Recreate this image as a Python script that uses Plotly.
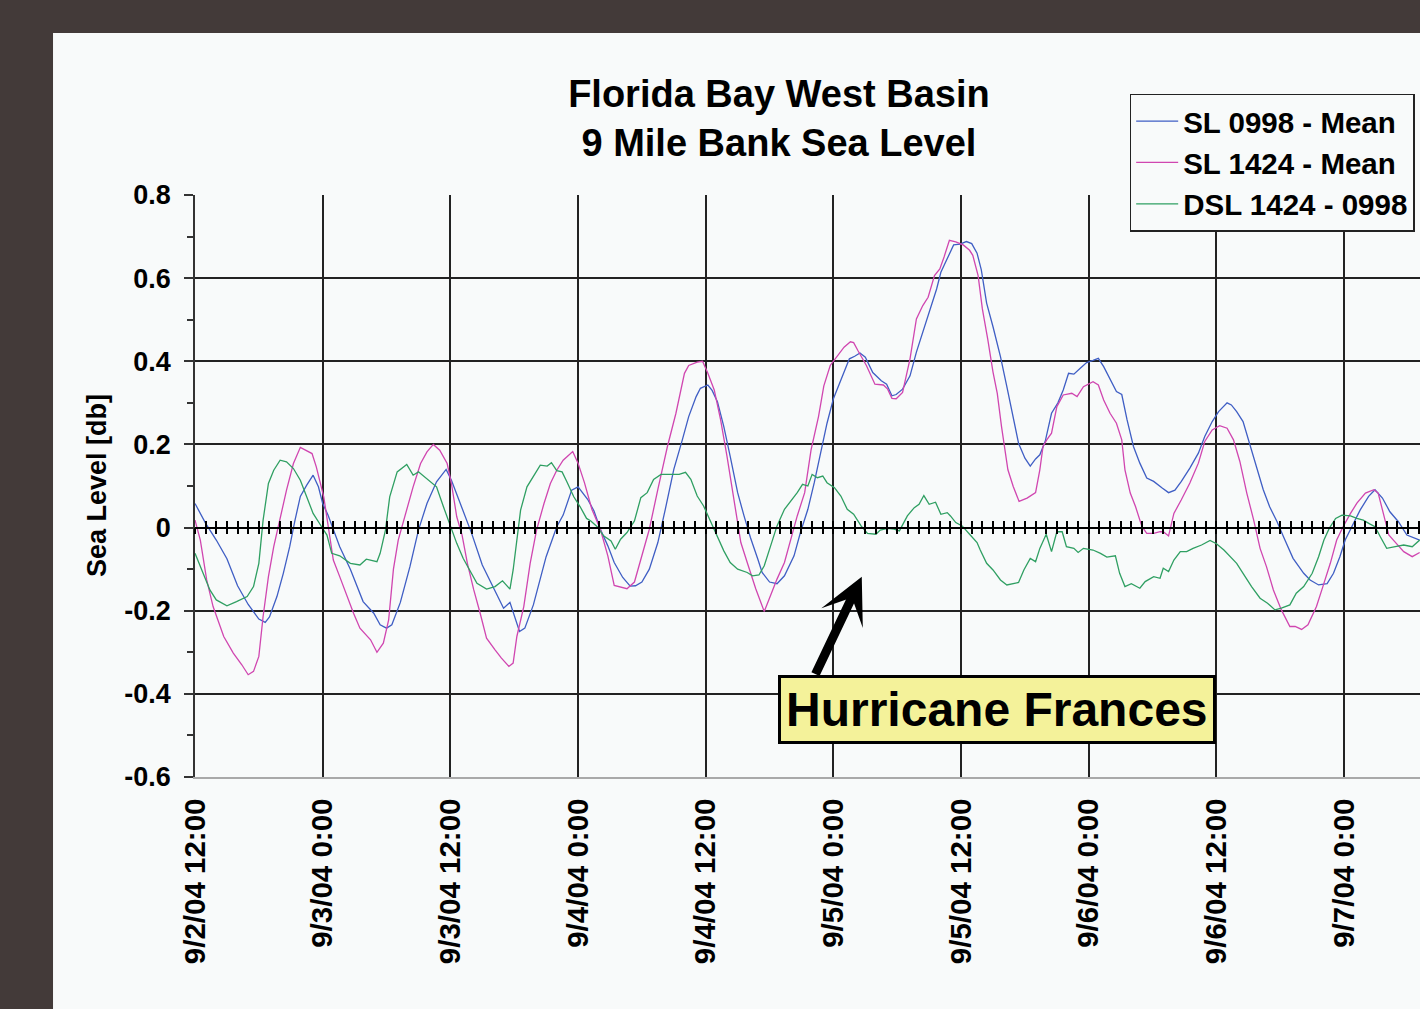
import plotly.graph_objects as go
import pandas as pd

# ---------------- data (hours after 9/2/04 12:00, sea level [db]) ----------------
blue_h = [0, 1, 2, 3, 4, 5, 6, 6.6, 7, 7.7, 8.3, 8.9, 9.4, 9.9, 10.5, 11.1, 11.6, 12, 12.5, 13,
          13.6, 14.6, 15.8, 16.8, 17.4, 18, 18.5, 19.3, 20.2, 21, 21.8, 22.7, 23.6, 24.1, 25.2, 26,
          27, 27.9, 29, 29.6, 30.5, 31, 31.8, 33, 34, 34.6, 35.4, 36, 36.9, 37.5, 38.1, 38.8, 39.4,
          40.2, 40.9, 41.4, 42, 42.7, 43.5, 44.2, 45, 45.8, 46.4, 47.1, 47.5, 48.2, 48.6, 49.1, 49.7,
          50.3, 51, 51.6, 52.2, 52.9, 53.3, 54, 54.7, 55.4, 56.3, 56.9, 57.6, 58.2, 58.8, 59.4, 60,
          60.8, 61.5, 62, 62.5, 63, 63.7, 64.5, 65, 65.5, 65.9, 66.5, 67.2, 67.8, 68.4, 69, 69.7,
          70.1, 70.65, 71.3, 71.9, 72.5, 73, 73.5, 73.9, 74.4, 75, 75.7, 76.3, 76.8, 77.4, 78, 78.5,
          79, 79.4, 79.9, 80.5, 81.1, 81.6, 82.1, 82.6, 83.2, 83.8, 84.4, 84.9, 85.4, 86, 86.6, 87.1,
          87.6, 88.2, 88.8, 89.45, 90.1, 90.9, 91.5, 92.1, 92.7, 93.5, 94.3, 94.9, 95.6, 96.2, 97,
          97.4, 97.9, 98.5, 99.2, 99.8, 100.4, 101, 101.7, 102.3, 103.2, 104.2, 104.8, 105.6, 106.4,
          107, 107.6, 108.1, 108.9, 109.5, 110.3, 110.9, 111.6, 112.3, 113.1, 113.9, 115.1]
blue_v = [0.058, 0.01, -0.03, -0.075, -0.14, -0.185, -0.22, -0.228, -0.215, -0.166, -0.11, -0.046,
          0.018, 0.075, 0.102, 0.126, 0.098, 0.058, 0.03, -0.006, -0.046, -0.1, -0.178, -0.206,
          -0.234, -0.242, -0.234, -0.18, -0.094, -0.006, 0.058, 0.11, 0.14, 0.114, 0.042, -0.014,
          -0.09, -0.138, -0.194, -0.18, -0.25, -0.242, -0.186, -0.07, 0.002, 0.03, 0.09, 0.098,
          0.068, 0.04, -0.004, -0.044, -0.084, -0.12, -0.141, -0.14, -0.131, -0.1, -0.036, 0.044,
          0.14, 0.211, 0.267, 0.315, 0.335, 0.343, 0.33, 0.303, 0.243, 0.171, 0.084, 0.028, -0.024,
          -0.076, -0.108, -0.131, -0.135, -0.116, -0.068, -0.012, 0.044, 0.108, 0.179, 0.251, 0.31,
          0.363, 0.406, 0.412, 0.42, 0.41, 0.373, 0.353, 0.345, 0.317, 0.32, 0.333, 0.365, 0.422,
          0.47, 0.518, 0.574, 0.614, 0.644, 0.68, 0.682, 0.688, 0.683, 0.66, 0.62, 0.54, 0.483,
          0.411, 0.339, 0.275, 0.203, 0.167, 0.148, 0.165, 0.175, 0.207, 0.275, 0.3, 0.331, 0.371,
          0.369, 0.383, 0.397, 0.402, 0.407, 0.387, 0.355, 0.327, 0.32, 0.259, 0.195, 0.155, 0.119,
          0.111, 0.095, 0.084, 0.09, 0.111, 0.143, 0.179, 0.219, 0.255, 0.279, 0.3, 0.295, 0.279,
          0.255, 0.195, 0.139, 0.091, 0.05, 0.014, -0.022, -0.074, -0.11, -0.126, -0.138, -0.135,
          -0.11, -0.07, -0.03, 0.01, 0.042, 0.075, 0.091, 0.071, 0.038, 0.014, -0.018, -0.03]

pink_h = [0, 0.5, 1.1, 1.7, 2.7, 3.6, 4.4, 5, 5.5, 6, 6.4, 6.9, 7.4, 8, 8.6, 9.25, 9.9, 11, 11.4,
          12.1, 12.5, 13, 13.6, 14.3, 14.9, 15.5, 16.5, 17.1, 17.7, 18.2, 18.65, 19.1, 19.9, 20.5,
          21.2, 21.8, 22.4, 23, 23.7, 24.1, 24.6, 25.1, 25.6, 26.2, 26.8, 27.4, 28.2, 28.8, 29.5,
          29.9, 30.25, 30.9, 31.5, 32.1, 32.8, 33.4, 34, 34.6, 35.5, 36, 36.6, 37.3, 38.1, 38.8,
          39.4, 40, 40.6, 41.3, 42, 42.7, 43.5, 44.4, 45.2, 46, 46.4, 47.2, 47.7, 48.2, 48.8, 49.4,
          50, 50.7, 51.3, 51.9, 52.7, 53.5, 54.1, 54.7, 55.4, 56, 56.6, 57.3, 57.6, 57.9, 58.6,
          59.1, 59.7, 60.4, 61, 61.6, 61.9, 62.3, 63.1, 63.9, 64.7, 65.1, 65.5, 65.9, 66.5, 67.2,
          67.8, 68.4, 68.9, 69.5, 70, 70.4, 70.9, 71.5, 72.2, 72.8, 73.1, 73.6, 74, 74.5, 75, 75.4,
          75.8, 76.4, 76.9, 77.45, 78.2, 79, 79.4, 79.7, 80.05, 80.5, 81, 81.6, 82.4, 82.9, 83.5,
          84.4, 84.9, 85.4, 86, 86.6, 87.1, 87.4, 87.9, 88.4, 89, 89.45, 90.1, 90.7, 91, 91.5, 92,
          92.7, 93.5, 94.3, 94.9, 95.6, 96.3, 97, 97.6, 98.2, 98.85, 99.5, 100.1, 100.7, 101.35,
          102.1, 102.9, 103.4, 104, 104.6, 105.4, 106, 106.7, 107.3, 107.9, 108.6, 109.2, 110,
          110.8, 111.2, 111.7, 112.2, 112.9, 113.6, 114.4, 115.1]
pink_v = [0.018, -0.03, -0.126, -0.19, -0.262, -0.302, -0.33, -0.354, -0.346, -0.31, -0.214,
          -0.118, -0.046, 0.026, 0.09, 0.154, 0.193, 0.178, 0.146, 0.074, 0.01, -0.078, -0.118,
          -0.166, -0.206, -0.242, -0.27, -0.3, -0.278, -0.222, -0.1, -0.03, 0.042, 0.098, 0.154,
          0.182, 0.2, 0.186, 0.154, 0.106, 0.026, -0.018, -0.086, -0.15, -0.206, -0.266, -0.294,
          -0.314, -0.334, -0.326, -0.262, -0.19, -0.086, -0.006, 0.058, 0.106, 0.138, 0.162, 0.183,
          0.155, 0.108, 0.044, -0.004, -0.068, -0.139, -0.143, -0.147, -0.131, -0.068, -0.004,
          0.092, 0.195, 0.275, 0.371, 0.39, 0.398, 0.4, 0.371, 0.331, 0.259, 0.171, 0.06, -0.036,
          -0.084, -0.147, -0.202, -0.163, -0.124, -0.084, -0.028, 0.028, 0.084, 0.131, 0.187, 0.267,
          0.341, 0.39, 0.414, 0.434, 0.447, 0.445, 0.426, 0.39, 0.345, 0.343, 0.333, 0.311, 0.31,
          0.325, 0.406, 0.502, 0.534, 0.554, 0.606, 0.622, 0.651, 0.691, 0.687, 0.68, 0.667, 0.655,
          0.606, 0.526, 0.454, 0.374, 0.323, 0.243, 0.139, 0.099, 0.063, 0.071, 0.084, 0.139, 0.195,
          0.211, 0.227, 0.291, 0.319, 0.323, 0.315, 0.339, 0.351, 0.343, 0.307, 0.275, 0.251, 0.211,
          0.139, 0.083, 0.05, 0.002, -0.014, -0.014, -0.01, -0.01, -0.02, 0.034, 0.067, 0.107,
          0.155, 0.207, 0.235, 0.245, 0.239, 0.211, 0.159, 0.083, 0.018, -0.05, -0.094, -0.15,
          -0.198, -0.238, -0.238, -0.245, -0.234, -0.19, -0.142, -0.086, -0.03, 0.002, 0.034, 0.059,
          0.083, 0.091, 0.083, 0.034, -0.018, -0.038, -0.058, -0.07, -0.06]

green_h = [0, 0.8, 1.4, 2, 3, 3.9, 4.9, 5.5, 6, 6.4, 6.9, 7.4, 8, 8.6, 9.25, 9.9, 10.5, 11.1, 11.9,
           12.4, 12.85, 13.6, 14.6, 15.5, 16.1, 17.1, 17.4, 17.9, 18.3, 19, 19.9, 20.5, 21, 21.8,
           22.7, 23.35, 24, 24.6, 25.2, 26, 26.5, 27.4, 28.2, 28.9, 29.6, 29.9, 30.6, 31.2, 31.8,
           32.45, 33.1, 33.5, 34, 34.5, 34.95, 35.6, 36.2, 36.8, 37.2, 37.8, 38.4, 39.1, 39.5, 40,
           40.6, 41.3, 41.9, 42.5, 43.1, 43.8, 44.7, 45.5, 46.1, 46.6, 47.2, 47.8, 48.5, 49.1, 49.7,
           50.3, 51, 51.9, 52.4, 53, 53.5, 54.1, 54.7, 55.4, 56, 56.6, 57.1, 57.6, 58, 58.5, 59,
           59.4, 60.1, 60.7, 61.3, 61.9, 62.6, 63.2, 64, 64.4, 65.1, 65.7, 66.2, 66.95, 67.6, 68.05,
           68.5, 69, 69.6, 70.1, 70.7, 71, 71.5, 72.1, 72.8, 73.5, 73.8, 74.4, 75, 75.7, 76.3, 76.9,
           77.4, 77.9, 78.5, 79, 79.4, 80, 80.5, 81, 81.5, 81.9, 82.6, 83, 83.5, 84.4, 85.1, 85.7,
           86.5, 86.9, 87.4, 88, 88.8, 89.3, 90.1, 90.7, 91, 91.5, 92, 92.6, 93.2, 93.8, 94.6, 95.4,
           96, 96.7, 97.3, 97.9, 98.5, 99.3, 100.1, 100.8, 101.5, 102.1, 102.9, 103.5, 104.2, 105,
           105.6, 106.1, 106.6, 107.2, 107.8, 108.6, 109.2, 109.8, 110.4, 110.9, 111.4, 112, 112.8,
           113.6, 114.4, 115.1]
green_v = [-0.062, -0.11, -0.15, -0.174, -0.188, -0.178, -0.166, -0.142, -0.086, 0.018, 0.106,
           0.138, 0.162, 0.158, 0.142, 0.114, 0.074, 0.034, 0.002, -0.018, -0.062, -0.068, -0.086,
           -0.09, -0.076, -0.082, -0.062, -0.006, 0.074, 0.134, 0.152, 0.126, 0.134, 0.118, 0.098,
           0.05, 0.002, -0.038, -0.074, -0.11, -0.134, -0.148, -0.142, -0.128, -0.148, -0.102,
           0.042, 0.098, 0.122, 0.15, 0.148, 0.156, 0.137, 0.134, 0.11, 0.074, 0.05, 0.022, 0.016,
           0.002, -0.02, -0.032, -0.052, -0.028, -0.012, 0.016, 0.072, 0.084, 0.116, 0.128, 0.128,
           0.128, 0.133, 0.116, 0.076, 0.052, 0.012, -0.024, -0.056, -0.084, -0.1, -0.108, -0.116,
           -0.114, -0.092, -0.044, 0.004, 0.044, 0.064, 0.084, 0.104, 0.1, 0.128, 0.12, 0.124,
           0.108, 0.096, 0.076, 0.044, 0.032, 0.004, -0.014, -0.016, -0.006, -0.002, -0.004, -0.008,
           0.028, 0.048, 0.056, 0.077, 0.056, 0.061, 0.032, 0.036, 0.028, 0.012, 0.004, -0.016,
           -0.036, -0.054, -0.086, -0.102, -0.126, -0.138, -0.134, -0.132, -0.102, -0.074, -0.082,
           -0.05, -0.016, -0.058, -0.01, -0.01, -0.046, -0.05, -0.06, -0.05, -0.054, -0.062, -0.071,
           -0.068, -0.11, -0.142, -0.135, -0.146, -0.13, -0.118, -0.122, -0.098, -0.106, -0.078,
           -0.058, -0.058, -0.05, -0.042, -0.031, -0.039, -0.054, -0.07, -0.086, -0.11, -0.142,
           -0.17, -0.182, -0.198, -0.194, -0.186, -0.158, -0.142, -0.11, -0.07, -0.03, -0.002,
           0.022, 0.03, 0.028, 0.022, 0.018, 0.009, 0.002, -0.022, -0.05, -0.046, -0.042, -0.046,
           -0.03]

series_names = ["SL 0998 - Mean", "SL 1424 - Mean", "DSL 1424 - 0998"]
series_colors = ["#3f5ec4", "#d046b0", "#2f9f62"]

y_tickvals = [-0.6, -0.4, -0.2, 0, 0.2, 0.4, 0.6, 0.8]
y_ticktext = ["-0.6", "-0.4", "-0.2", "0", "0.2", "0.4", "0.6", "0.8"]

start = pd.Timestamp("2004-09-02 12:00")
x_end_hours = 115.13

title_text = "Florida Bay West Basin<br>9 Mile Bank Sea Level"
ytitle_text = "Sea Level [db]"
note_text = "Hurricane Frances"

# ---------------- style ----------------
FONT = "Liberation Sans, Arial, sans-serif"
WHITE = "#f8fafa"
DARK = "#433a39"
GRID = "#222222"


def to_time(hours):
    return start + pd.to_timedelta(hours, unit="h")


x_end = start + pd.Timedelta(hours=x_end_hours)
xr = [start.strftime("%Y-%m-%d %H:%M:%S"), x_end.strftime("%Y-%m-%d %H:%M:%S")]

fig = go.Figure()
for hrs, vals, name, col in [(blue_h, blue_v, series_names[0], series_colors[0]),
                             (pink_h, pink_v, series_names[1], series_colors[1]),
                             (green_h, green_v, series_names[2], series_colors[2])]:
    fig.add_trace(go.Scatter(x=to_time(hrs), y=vals, mode="lines", name=name,
                             line=dict(color=col, width=1.3)))

# invisible helpers so the zero-line tick axes are drawn
for ax in ["x2", "x3"]:
    fig.add_trace(go.Scatter(x=[start], y=[0], xaxis=ax, yaxis="y", mode="markers",
                             marker=dict(opacity=0), showlegend=False, hoverinfo="skip"))

zero_pos = 0.6 / 1.4
zero_axis = dict(type="date", overlaying="x", anchor="free", position=zero_pos, range=xr,
                 tick0=xr[0], dtick=3600000, ticklen=6, tickwidth=1.5, tickcolor="black",
                 showticklabels=False, showgrid=False, zeroline=False, showline=True,
                 linecolor="black", linewidth=1.5)

fig.update_layout(
    width=1420, height=1009,
    margin=dict(l=195, r=0, t=195, b=232),
    paper_bgcolor=DARK, plot_bgcolor=WHITE,
    showlegend=True,
    title=dict(text=title_text, x=0.4767, xref="paper", xanchor="center",
               y=1 - 107 / 1009, yref="container", yanchor="top",
               font=dict(family=FONT, size=38, color="black", weight="bold")),
    xaxis=dict(type="date", range=xr, tick0=xr[0], dtick=43200000,
               tickformat="%-m/%-d/%y %-H:%M", tickangle=-90,
               showgrid=True, gridcolor=GRID, gridwidth=1.5,
               showline=True, linecolor="#a9a9a9", linewidth=1.5, ticks="",
               zeroline=False, ticklabelstandoff=8,
               tickfont=dict(family=FONT, size=29.5, color="black", weight="bold")),
    xaxis2=dict(zero_axis, ticks="outside"),
    xaxis3=dict(zero_axis, ticks="inside"),
    yaxis=dict(range=[-0.6, 0.8], tickmode="array", tickvals=y_tickvals, ticktext=y_ticktext,
               showgrid=True, gridcolor=GRID, gridwidth=1.5,
               showline=True, linecolor="#333333", linewidth=1.5,
               ticks="outside", ticklen=9, tickwidth=1.5, tickcolor="#333333",
               minor=dict(tickmode="linear", tick0=0, dtick=0.1, ticks="outside", ticklen=6,
                          tickwidth=1.5, tickcolor="#333333", showgrid=False),
               zeroline=False, ticklabelstandoff=8,
               tickfont=dict(family=FONT, size=27, color="black", weight="bold")),
    legend=dict(x=0.763, y=1.1737, xref="paper", yref="paper", xanchor="left", yanchor="top",
                bgcolor=WHITE, bordercolor="#222222", borderwidth=1.5, itemwidth=42,
                font=dict(family=FONT, size=29.5, color="black", weight="bold")),
    shapes=[dict(type="rect", xref="paper", yref="paper", x0=-0.1159, x1=1.02,
                 y0=-0.42, y1=1.2784, fillcolor=WHITE, line=dict(width=0), layer="below")],
    annotations=[
        dict(text=ytitle_text, xref="paper", yref="paper", x=-0.08, y=0.5, textangle=-90,
             showarrow=False, xanchor="center", yanchor="middle",
             font=dict(family=FONT, size=27, color="black", weight="bold")),
        dict(text=note_text, xref="paper", yref="paper", x=0.6547, y=0.116,
             xanchor="center", yanchor="middle", showarrow=False,
             bgcolor="#f4f29a", bordercolor="black", borderwidth=3, borderpad=5,
             font=dict(family=FONT, size=48, color="black", weight="bold")),
        dict(text="", xref="paper", yref="paper", x=0.5443, y=0.3442,
             showarrow=True, ax=-47, ay=99, arrowhead=3, arrowsize=0.85, arrowwidth=9,
             arrowcolor="black", standoff=0),
    ],
)

fig.write_html("out.html", config={"displayModeBar": False},
               post_script="document.body.style.margin='0';document.body.style.overflow='hidden';")
